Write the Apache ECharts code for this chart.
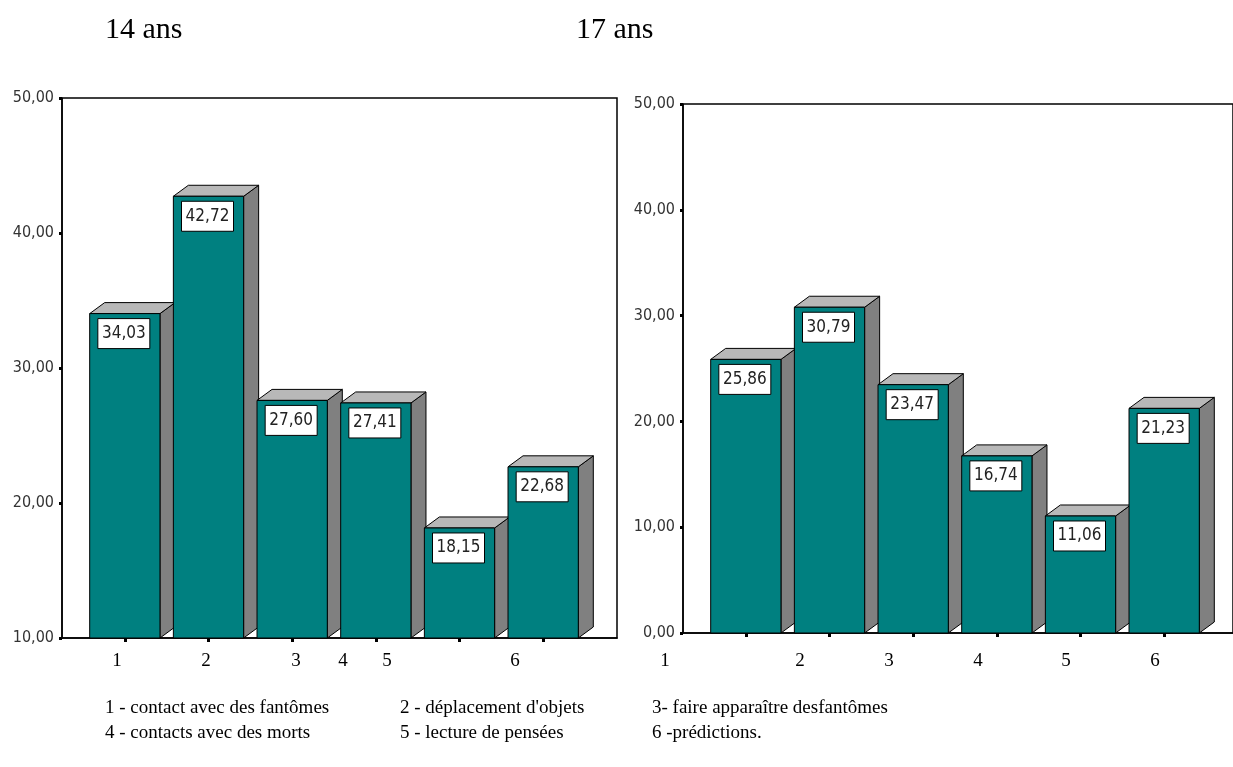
<!DOCTYPE html>
<html><head><meta charset="utf-8">
<script src="https://cdn.jsdelivr.net/npm/echarts@6/dist/echarts.min.js"></script>
<style>html,body{margin:0;padding:0;background:#fff}#c{width:1233px;height:767px}</style>
</head><body><div id="c"></div>
<script>
var categories = ['1', '2', '3', '4', '5', '6'];
var values14 = [34.03, 42.72, 27.60, 27.41, 18.15, 22.68];
var values17 = [25.86, 30.79, 23.47, 16.74, 11.06, 21.23];
var titles = ['14 ans', '17 ans'];
var legendLines = [
  ['1 - contact avec des fantômes', '2 - déplacement d\'objets', '3- faire apparaître desfantômes'],
  ['4 - contacts avec des morts', '5 - lecture de pensées', '6 -prédictions.']
];

var SERIF = "'Liberation Serif','Times New Roman',serif";
var NARROW = "'Liberation Sans Narrow','Arial Narrow','DejaVu Sans Condensed',sans-serif";
function fmt(v){ return v.toFixed(2).replace('.', ','); }

function make3D(yMin){
  return function(params, api){
    var x = api.value(0), v = api.value(1);
    var top = api.coord([x, v]);
    var base = api.coord([x, yMin]);
    var bw = api.size([1, 0])[0] * 0.84;
    var l = top[0] - bw / 2, r = top[0] + bw / 2;
    var ty = top[1], by = base[1];
    var dx = 15, dy = 11;
    var line = {stroke: '#000', lineWidth: 1};
    return {type: 'group', children: [
      {type: 'polygon', shape: {points: [[r, ty], [r + dx, ty - dy], [r + dx, by - dy], [r, by]]},
        style: Object.assign({fill: '#808080'}, line)},
      {type: 'polygon', shape: {points: [[l, ty], [l + dx, ty - dy], [r + dx, ty - dy], [r, ty]]},
        style: Object.assign({fill: '#b8b8b8'}, line)},
      {type: 'rect', shape: {x: l, y: ty, width: bw, height: by - ty},
        style: Object.assign({fill: '#008080'}, line)},
      {type: 'rect', shape: {x: top[0] - 27, y: ty + 5, width: 52, height: 30},
        style: {fill: '#fff', stroke: '#000', lineWidth: 1}},
      {type: 'text', style: {x: top[0] - 1, y: ty + 20, text: fmt(v), fill: '#222',
        font: '17px ' + NARROW, align: 'center', verticalAlign: 'middle'}}
    ]};
  };
}

function frameAxes(gi, min, max){
  return {
    x: {type: 'value', gridIndex: gi, min: 0, max: 1, show: true,
      axisLine: {show: true, onZero: false, lineStyle: {color: '#000', width: 1.5}},
      axisTick: {show: false}, axisLabel: {show: false}, splitLine: {show: false}},
    y: {type: 'value', gridIndex: gi, min: min, max: max, interval: 10,
      axisLine: {show: true, lineStyle: {color: '#000', width: 1.5}},
      axisTick: {show: true, length: 3, lineStyle: {color: '#000', width: 3}},
      axisLabel: {formatter: function(v){ return fmt(v); }, color: '#333', margin: 8,
        fontFamily: NARROW, fontSize: 16},
      splitLine: {show: false}}
  };
}
function barAxes(gi, min, max){
  return {
    x: {type: 'category', gridIndex: gi, data: categories,
      axisLine: {show: false}, axisLabel: {show: false},
      axisTick: {show: true, alignWithLabel: true, length: 4, lineStyle: {color: '#000', width: 3}}},
    y: {type: 'value', gridIndex: gi, min: min, max: max, show: false}
  };
}

var f0 = frameAxes(0, 10, 50), f1 = frameAxes(1, 0, 50);
var b0 = barAxes(2, 10, 50), b1 = barAxes(3, 0, 50);

var graphics = [];
graphics.push({type: 'text', x: 105, y: 30, style: {text: titles[0], font: '30px ' + SERIF, fill: '#000', verticalAlign: 'middle'}});
graphics.push({type: 'text', x: 576, y: 30, style: {text: titles[1], font: '30px ' + SERIF, fill: '#000', verticalAlign: 'middle'}});
var lx0 = [117, 206, 296, 343, 387, 515], lx1 = [665, 800, 889, 978, 1066, 1155];
categories.forEach(function(c, i){
  graphics.push({type: 'text', x: lx0[i], y: 661, style: {text: c, font: '19px ' + SERIF, fill: '#000', align: 'center', verticalAlign: 'middle'}});
  graphics.push({type: 'text', x: lx1[i], y: 661, style: {text: c, font: '19px ' + SERIF, fill: '#000', align: 'center', verticalAlign: 'middle'}});
});
var colX = [105, 400, 652], rowY = [708, 733];
legendLines.forEach(function(row, r){
  row.forEach(function(t, c){
    graphics.push({type: 'text', x: colX[c], y: rowY[r], style: {text: t, font: '19px ' + SERIF, fill: '#000', verticalAlign: 'middle'}});
  });
});

var chart = echarts.init(document.getElementById('c'));
chart.setOption({
  animation: false,
  grid: [
    {left: 62, top: 98, width: 555, height: 540, show: true, borderColor: '#000', borderWidth: 1.5, backgroundColor: 'transparent'},
    {left: 683, top: 104, width: 555, height: 529, show: true, borderColor: '#000', borderWidth: 1.5, backgroundColor: 'transparent'},
    {left: 83, top: 98, width: 502, height: 540},
    {left: 704, top: 104, width: 502, height: 529}
  ],
  xAxis: [f0.x, f1.x, b0.x, b1.x],
  yAxis: [f0.y, f1.y, b0.y, b1.y],
  series: [
    {type: 'custom', xAxisIndex: 2, yAxisIndex: 2, renderItem: make3D(10),
      data: values14.map(function(v, i){ return [i, v]; })},
    {type: 'custom', xAxisIndex: 3, yAxisIndex: 3, renderItem: make3D(0),
      data: values17.map(function(v, i){ return [i, v]; })}
  ],
  graphic: graphics
});
</script></body></html>
